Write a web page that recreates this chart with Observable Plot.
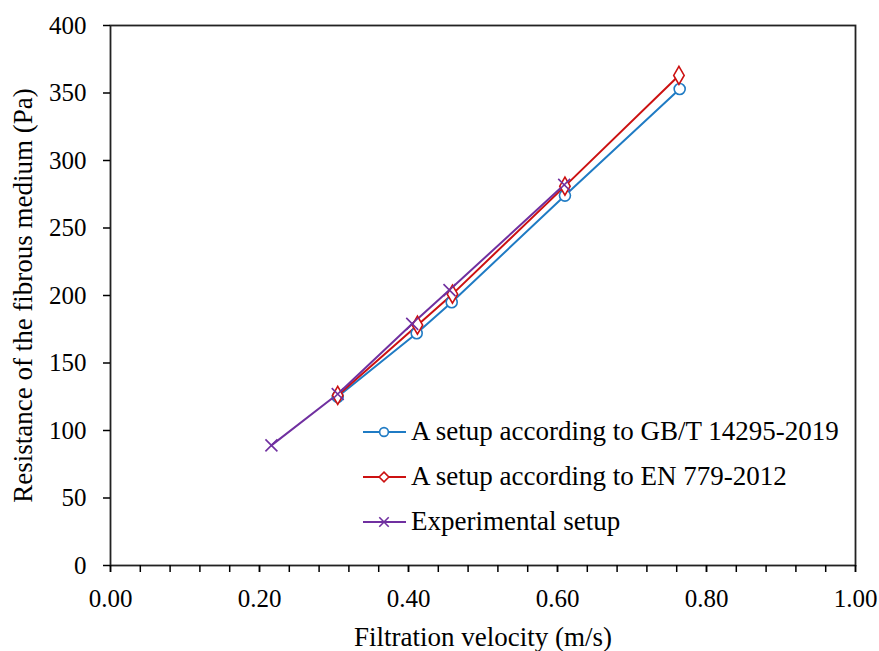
<!DOCTYPE html>
<html>
<head>
<meta charset="utf-8">
<script src="https://cdn.jsdelivr.net/npm/d3@7"></script>
<script src="https://cdn.jsdelivr.net/npm/@observablehq/plot@0.6"></script>
<style>
  body { margin: 0; background: #fff; }
  #wrap { position: relative; width: 879px; height: 651px; font-family: "Liberation Serif", serif; }
  #wrap svg text { font-family: "Liberation Serif", serif; }
  #legend { position: absolute; left: 362px; top: 409px; font-size: 27px; color: #000; font-family: "Liberation Serif", serif; }
  .row { display: flex; align-items: center; height: 45px; }
  .row svg { margin-right: 4px; }
</style>
</head>
<body>
<div id="wrap"></div>
<script>
// Data
const seriesNames = ["A setup according to GB/T 14295-2019", "A setup according to EN 779-2012", "Experimental setup"];
const seriesColors = ["#1f7bc4", "#cc1111", "#7030a0"];
const seriesSymbols = ["circle", "diamond", "times"];

const gbVelocity = [0.305, 0.411, 0.458, 0.610, 0.764];
const gbResistance = [125, 172, 195, 274, 353];

const enVelocity = [0.305, 0.412, 0.459, 0.610, 0.763];
const enResistance = [126, 178, 201, 281, 363];

const expVelocity = [0.216, 0.305, 0.405, 0.455, 0.609];
const expResistance = [89, 127, 179, 204, 282];

const xMajorTicks = [0, 0.2, 0.4, 0.6, 0.8, 1.0];
const xMinorTicks = d3.range(0, 26).map(i => i * 0.04);
const yTicks = [0, 50, 100, 150, 200, 250, 300, 350, 400];

const data = [];
[[gbVelocity, gbResistance], [enVelocity, enResistance], [expVelocity, expResistance]].forEach(([xs, ys], k) => {
  xs.forEach((x, i) => data.push({series: seriesNames[k], x, y: ys[i]}));
});

const color = {domain: seriesNames, range: seriesColors};
const sym = {domain: seriesNames, range: seriesSymbols};

const chart = Plot.plot({
  width: 879,
  height: 651,
  marginLeft: 110,
  marginRight: 24,
  marginTop: 25,
  marginBottom: 86,
  style: {fontFamily: "'Liberation Serif', serif", fontSize: "25px", color: "#000", background: "#fff"},
  x: {domain: [0, 1]},
  y: {domain: [0, 400]},
  color,
  symbol: sym,
  marks: [
    Plot.frame({stroke: "#222", strokeWidth: 1.8}),
    Plot.axisX({ticks: xMinorTicks, tickSize: 7, tickFormat: () => "", strokeWidth: 1.5, label: null}),
    Plot.axisX({ticks: xMajorTicks, tickSize: 7, tickPadding: 17, tickFormat: d3.format(".2f"), strokeWidth: 1.5, fontSize: 25,
      label: null}),
    Plot.axisX({ticks: [], label: "Filtration velocity (m/s)", labelAnchor: "center", labelArrow: "none", labelOffset: 80, fontSize: 27}),
    Plot.axisY({ticks: yTicks, tickSize: 7, tickPadding: 17, strokeWidth: 1.5, fontSize: 25, label: null}),
    Plot.axisY({ticks: [], label: "Resistance of the fibrous medium (Pa)", labelAnchor: "center", labelArrow: "none", labelOffset: 98, fontSize: 27}),
    Plot.line(data, {x: "x", y: "y", z: "series", stroke: "series", strokeWidth: 2}),
    Plot.dot(data, {x: "x", y: "y", stroke: "series", symbol: "series", fill: d => d.series === seriesNames[2] ? "none" : "white", r: 5.5, strokeWidth: 1.6})
  ]
});

const wrap = document.getElementById("wrap");
wrap.appendChild(chart);

// Legend overlay
const legend = document.createElement("div");
legend.id = "legend";
seriesNames.forEach((name, k) => {
  const row = document.createElement("div");
  row.className = "row";
  const sw = d3.create("svg").attr("width", 45).attr("height", 20);
  sw.append("line").attr("x1", 1).attr("x2", 44).attr("y1", 10).attr("y2", 10).attr("stroke", seriesColors[k]).attr("stroke-width", 2);
  const symGen = {circle: d3.symbolCircle, diamond: d3.symbolDiamond2, times: d3.symbolTimes}[seriesSymbols[k]];
  sw.append("path").attr("d", d3.symbol(symGen, 60)()).attr("transform", "translate(22,10)")
    .attr("fill", k === 2 ? "none" : "white").attr("stroke", seriesColors[k]).attr("stroke-width", 1.6);
  row.appendChild(sw.node());
  const t = document.createElement("span");
  t.textContent = name;
  row.appendChild(t);
  legend.appendChild(row);
});
wrap.appendChild(legend);
</script>
</body>
</html>
